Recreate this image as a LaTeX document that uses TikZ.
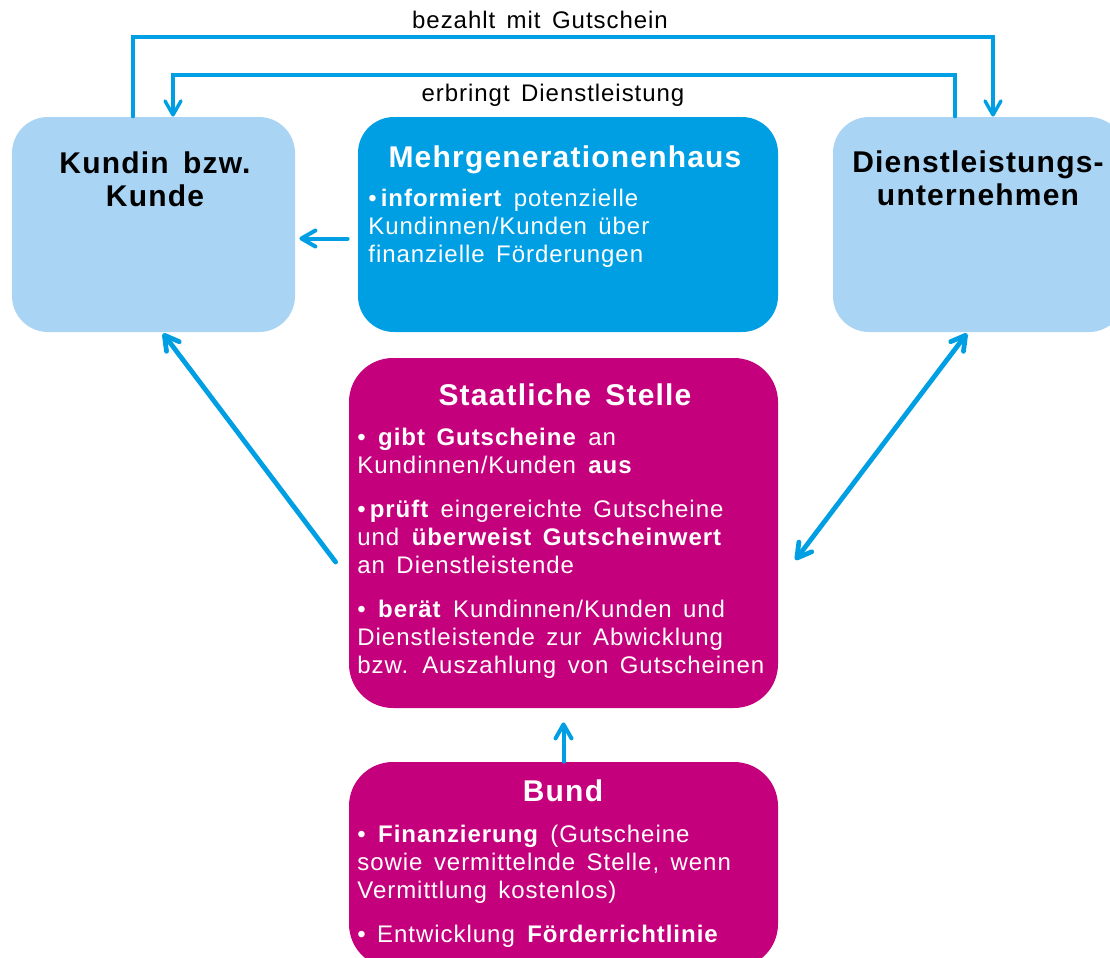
\documentclass[tikz,border=0pt]{standalone}
\usepackage{fontspec}
\setmainfont{Liberation Sans}[LetterSpace=4,WordSpace=1.5]
\usetikzlibrary{arrows.meta,positioning}
\definecolor{hellblau}{HTML}{A9D4F4}
\definecolor{mghblau}{HTML}{009FE3}
\definecolor{pfeilblau}{HTML}{009FE3}
\definecolor{stellmagenta}{HTML}{C5007C}

\begin{document}
\begin{tikzpicture}[x=0.5pt,y=-0.5pt,>={Straight Barb[length=7pt,width=8pt,round]},
  every node/.style={font=\fontsize{12}{14}\selectfont},
  kasten/.style={rounded corners=18pt, inner sep=0pt},
  titel/.style={font=\fontsize{15}{16.5}\selectfont\bfseries, align=center, inner sep=0pt, anchor=north},
  punkte/.style={text=white, align=left, inner sep=0pt, anchor=north west},
  pfeil/.style={->, draw=pfeilblau, line width=2pt, line cap=round}]
  \useasboundingbox (0,0) rectangle (1110,958);
  % Boxes
  \node (kunde)  [kasten, fill=hellblau, minimum width=141.5pt, minimum height=107.5pt] at (153.5,224.5) {};
  \node (mgh)    [kasten, fill=mghblau, minimum width=210pt, minimum height=107.5pt] at (568,224.5) {};
  \node (dienst) [kasten, fill=hellblau, minimum width=146pt, minimum height=107.5pt] at (979,224.5) {};
  \node (staat)  [kasten, rounded corners=22pt, fill=stellmagenta, minimum width=214.5pt, minimum height=175pt] at (563.5,533) {};
  \node (bund)   [kasten, rounded corners=22pt, fill=stellmagenta, minimum width=214.5pt, minimum height=103pt] at (563.5,865) {};
  % Titles
  \node (kunde-titel)  [titel] at (155,151) {Kundin bzw.\\Kunde};
  \node (dienst-titel) [titel] at (978,150) {Dienstleistungs-\\unternehmen};
  \node (mgh-titel)    [titel, text=white] at (565,145) {Mehrgenerationenhaus};
  \node (staat-titel)  [titel, text=white] at (565,383) {Staatliche Stelle};
  \node (bund-titel)   [titel, text=white] at (563,779) {Bund};
  % Texts
  \node (mgh-text) [punkte] at (368,189)
    {•\,\textbf{informiert} potenzielle\\Kundinnen/Kunden über\\finanzielle Förderungen};
  \node (staat-text) [punkte] at (357,428)
    {• \textbf{gibt Gutscheine} an\\Kundinnen/Kunden \textbf{aus}\\[8pt]
     •\,\textbf{prüft} eingereichte Gutscheine\\und \textbf{überweist Gutscheinwert}\\an Dienstleistende\\[8pt]
     • \textbf{berät} Kundinnen/Kunden und\\Dienstleistende zur Abwicklung\\bzw. Auszahlung von Gutscheinen};
  \node (bund-text) [punkte] at (357,825)
    {• \textbf{Finanzierung} (Gutscheine\\sowie vermittelnde Stelle, wenn\\Vermittlung kostenlos)\\[8pt]
     • Entwicklung \textbf{Förderrichtlinie}};
  % Draw arrows
  \coordinate (b1) at (133,37);
  \coordinate (b2) at (993,37);
  \coordinate (e1) at (955,75);
  \coordinate (e2) at (173,75);
  \draw[pfeil, line width=1.7pt] (kunde.north -| b1) -- (b1) -- (b2) -- (dienst.north -| b2);
  \draw[pfeil, line width=1.7pt] (dienst.north -| e1) -- (e1) -- (e2) -- (kunde.north -| e2);
  \node (bezahlt)  at (540,20) {bezahlt mit Gutschein};
  \node (erbringt) at (553,95) {erbringt Dienstleistung};
  \draw[pfeil] ([xshift=-5pt,yshift=-7pt]mgh.west) -- ([xshift=2pt,yshift=-7pt]kunde.east);
  \draw[pfeil, line width=2.4pt] ([xshift=-6.5pt,yshift=-14.5pt]staat.west) -- ([xshift=4.75pt,yshift=-0.5pt]kunde.south);
  \draw[pfeil, line width=2.4pt, <->] ([xshift=8.5pt,yshift=-13.5pt]staat.east) -- ([xshift=-6pt,yshift=-0.5pt]dienst.south);
  \draw[pfeil] (bund.north) -- ([yshift=-7pt]staat.south);
\end{tikzpicture}
\end{document}
